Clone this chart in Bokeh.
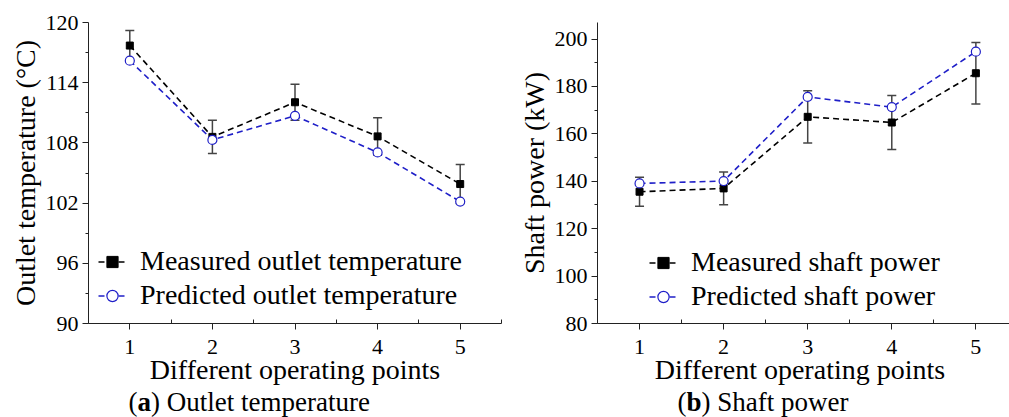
from bokeh.plotting import figure
from bokeh.models import (ColumnDataSource, Whisker, TeeHead, FixedTicker, Range1d,
                          Legend, LegendItem)
from bokeh.layouts import row, column
from bokeh.core.properties import value
from bokeh.embed import file_html
from bokeh.resources import INLINE

# ---- data ----
points = [1, 2, 3, 4, 5]
temp_measured = [117.7, 108.6, 112.05, 108.65, 103.9]
temp_err = [1.5, 1.65, 1.8, 1.85, 1.95]
temp_predicted = [116.2, 108.3, 110.7, 107.05, 102.15]
power_measured = [135.6, 137.0, 167.2, 164.8, 185.6]
power_err = [6.1, 6.9, 11.0, 11.4, 13.0]
power_predicted = [139.1, 140.1, 175.6, 171.3, 194.7]

x_label = "Different operating points"
x_label_b = "Different operating  points"
temp_ylabel = "Outlet temperature (\u00b0C)"
power_ylabel = "Shaft power (kW)"
temp_legend = ["Measured outlet temperature", "Predicted outlet temperature"]
power_legend = ["Measured shaft power", "Predicted shaft power"]
temp_yticks = [90, 96, 102, 108, 114, 120]
temp_yminor = [93, 99, 105, 111, 117]
power_yticks = [80, 100, 120, 140, 160, 180, 200]
power_yminor = [90, 110, 130, 150, 170, 190]
x_minor = [0.5, 1.5, 2.5, 3.5, 4.5, 5.5]
caption_parts = [["(", "a", ") Outlet temperature"], ["(", "b", ") Shaft power"]]

FONT = "Liberation Serif"
BLUE = "#1f1fc8"
ERR = "#444444"


def make_panel(width, height, mb_left, mb_right, mb_top, mb_bottom, xr, yr,
               yticks, yminor, ylabel, xlabel, meas, err, pred, legend_labels,
               legend_loc):
    p = figure(width=width, height=height, output_backend="svg", toolbar_location=None,
               x_range=Range1d(*xr), y_range=Range1d(*yr),
               min_border_left=mb_left, min_border_right=mb_right,
               min_border_top=mb_top, min_border_bottom=mb_bottom)
    p.outline_line_color = None
    p.grid.visible = False
    p.background_fill_color = "white"
    p.border_fill_color = "white"

    p.xaxis.ticker = FixedTicker(ticks=points, minor_ticks=x_minor)
    p.yaxis.ticker = FixedTicker(ticks=yticks, minor_ticks=yminor)
    for ax in (p.xaxis[0], p.yaxis[0]):
        ax.axis_line_color = "#222222"
        ax.major_tick_line_color = "#222222"
        ax.minor_tick_line_color = "#222222"
        ax.major_label_text_font = FONT
        ax.major_label_text_font_size = "22px"
        ax.major_label_text_color = "black"
        ax.axis_label_text_font = FONT
        ax.axis_label_text_font_size = "28px"
        ax.axis_label_text_font_style = "normal"
        ax.axis_label_text_color = "black"
    p.xaxis.major_tick_out = 6
    p.xaxis.major_tick_in = 0
    p.xaxis.minor_tick_in = 4
    p.xaxis.minor_tick_out = 0
    p.xaxis.major_label_standoff = 10
    p.xaxis.axis_label = xlabel
    p.xaxis.axis_label_standoff = -3
    p.yaxis.major_tick_out = 6
    p.yaxis.major_tick_in = 0
    p.yaxis.minor_tick_out = 3
    p.yaxis.minor_tick_in = 0
    p.yaxis.major_label_standoff = 4
    p.yaxis.axis_label = ylabel
    p.yaxis.axis_label_standoff = 2

    src = ColumnDataSource(dict(
        x=points, meas=meas, pred=pred,
        upper=[m + e for m, e in zip(meas, err)],
        lower=[m - e for m, e in zip(meas, err)]))

    w = Whisker(base="x", upper="upper", lower="lower", source=src,
                line_color=ERR, line_width=1.5,
                upper_head=TeeHead(size=9, line_color=ERR, line_width=1.5),
                lower_head=TeeHead(size=9, line_color=ERR, line_width=1.5))
    p.add_layout(w)

    l1 = p.line("x", "meas", source=src, line_color="black", line_width=1.6,
                line_dash="6 4")
    s1 = p.scatter("x", "meas", source=src, marker="square", size=7,
                   fill_color="black", line_color="black")
    l2 = p.line("x", "pred", source=src, line_color=BLUE, line_width=1.6,
                line_dash="6 4")
    s2 = p.scatter("x", "pred", source=src, marker="circle", size=9,
                   fill_color="white", line_color=BLUE, line_width=1.2)

    legend = Legend(items=[LegendItem(label=legend_labels[0], renderers=[l1, s1]),
                           LegendItem(label=legend_labels[1], renderers=[l2, s2])],
                    location=legend_loc, border_line_color=None,
                    background_fill_alpha=0, padding=0, margin=0, spacing=2,
                    glyph_width=28, glyph_height=31, label_height=31,
                    label_standoff=14, label_text_font=FONT,
                    label_text_font_size="28px", label_text_color="black")
    p.add_layout(legend)
    return p


PH = 387
p1 = make_panel(510, PH, 88, 9, 22, PH - 325, (0.5, 5.5), (90, 120),
                temp_yticks, temp_yminor, temp_ylabel, x_label,
                temp_measured, temp_err, temp_predicted, temp_legend, (10, 12))
p2 = make_panel(499, PH, 87, 0, 22, PH - 325, (0.5, 5.4), (80, 207),
                power_yticks, power_yminor, power_ylabel, x_label_b,
                power_measured, power_err, power_predicted, power_legend, (52, 11))

# caption strip (pixel coordinates)
CH = 30
cap = figure(width=1009, height=CH, output_backend="svg", toolbar_location=None,
             title=None, x_range=Range1d(0, 1009), y_range=Range1d(0, CH),
             x_axis_location=None, y_axis_location=None,
             min_border=0, min_border_left=0, min_border_right=0,
             min_border_top=0, min_border_bottom=0)
cap.grid.visible = False
cap.outline_line_color = None
cap.background_fill_color = "white"
cap.border_fill_color = "white"

CAP_SIZE = "27px"
cap_x0 = [128, 677]
cap_y0 = [16, 16]
for (a, b, c), x0, y0 in zip(caption_parts, cap_x0, cap_y0):
    bw = 13.5 if b == "a" else 15
    cap.text(x=[x0, x0 + 9 + bw], y=[y0, y0], text=[a, c],
             text_font=value(FONT), text_font_size=CAP_SIZE, text_color="black",
             text_baseline="alphabetic")
    cap.text(x=[x0 + 9], y=[y0], text=[b], text_font=value(FONT),
             text_font_size=CAP_SIZE, text_font_style="bold", text_color="black",
             text_baseline="alphabetic")

layout = column(row(p1, p2, spacing=0), cap, spacing=0)
open("out.html", "w").write(file_html(layout, INLINE))
